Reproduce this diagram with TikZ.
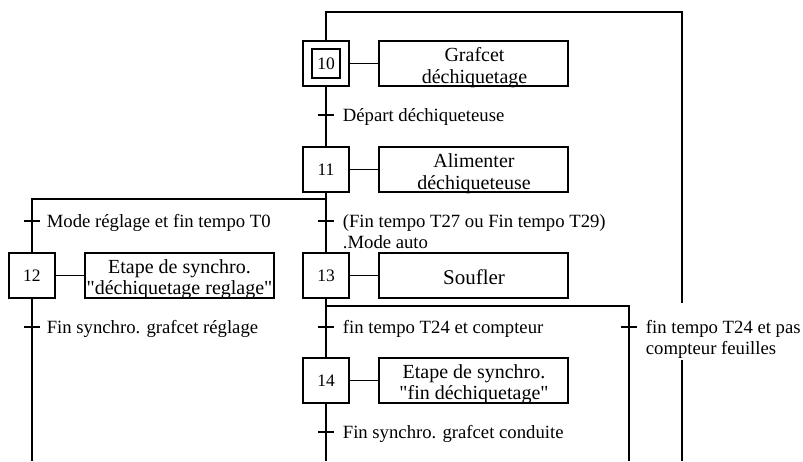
\documentclass[tikz,border=0pt]{standalone}
\usepackage{fontspec}
\setmainfont{Liberation Serif}
\begin{document}
\begin{tikzpicture}[x=1pt,y=-1pt, line width=1.7pt,
  every node/.style={font=\fontsize{18.7}{21}\selectfont},
  stepbox/.style={draw, minimum width=46pt, minimum height=45pt, inner sep=0pt, font=\fontsize{17.5}{21}\selectfont},
  innerbox/.style={draw, minimum width=28pt, minimum height=29pt, inner sep=0pt, font=\fontsize{17.5}{21}\selectfont},
  actbox/.style={draw, minimum width=189pt, minimum height=45pt, inner sep=0pt},
  acttext/.style={anchor=base, align=center, inner sep=0pt, font=\fontsize{20}{21.5}\selectfont},
  trtext/.style={anchor=base west, align=left, inner sep=0pt},
  tick/.style={line width=1.7pt}]
\useasboundingbox (0,0) rectangle (803,461);

% steps
\node[stepbox] (s10) at (326,63.5) {};
\node[innerbox] (s10i) at (326,63.5) {10};
\node[stepbox] (s11) at (326,169.5) {11};
\node[stepbox] (s12) at (32,275.5) {12};
\node[stepbox] (s13) at (326,275.5) {13};
\node[stepbox] (s14) at (326,380.5) {14};

% actions
\node[actbox] (a10) at (473.5,63.5) {};
\node[acttext] (a10t) at (474.5,83) {Grafcet\\déchiquetage};
\node[actbox] (a11) at (473.5,169.5) {};
\node[acttext] (a11t) at (474,189) {Alimenter\\déchiqueteuse};
\node[actbox] (a12) at (179.5,275.5) {};
\node[acttext] (a12t) at (179.5,294.5) {Etape de synchro.\\\textquotedbl déchiquetage reglage\textquotedbl};
\node[actbox] (a13) at (473.5,275.5) {};
\node[acttext, font=\fontsize{21}{22}\selectfont] (a13t) at (474,284) {Soufler};
\node[actbox] (a14) at (473.5,380.5) {};
\node[acttext] (a14t) at (474,399.5) {Etape de synchro.\\\textquotedbl fin déchiquetage\textquotedbl};

\draw (s10) -- (a10);
\draw (s11) -- (a11);
\draw (s12) -- (a12);
\draw (s13) -- (a13);
\draw (s14) -- (a14);

% coordinates
\coordinate (top) at (326,12);
\coordinate (topr) at (682,12);
\coordinate (r1) at (682,303);
\coordinate (r2) at (682,360);
\coordinate (botr) at (682,461);
\coordinate (d1l) at (32,199);
\coordinate (d1r) at (326,199);
\coordinate (b12) at (32,461);
\coordinate (d2l) at (326,306);
\coordinate (d2r) at (629,306);
\coordinate (b2r) at (629,461);
\coordinate (b14) at (326,461);

% links
\draw (s10.north) -- (top) -- (topr) -- (r1);
\draw (r2) -- (botr);
\draw (s10.south) -- (s11.north);
\draw (s11.south) -- (s13.north);
\draw (d1r) -- (d1l) -- (s12.north);
\draw (s12.south) -- (b12);
\draw (s13.south) -- (s14.north);
\draw (d2l) -- (d2r) -- (b2r);
\draw (s14.south) -- (b14);

% transitions
\foreach \n/\x/\y in {t1/326/115, t2/32/221, t3/326/221, t4/32/327, t5/326/327, t6/629/327, t7/326/432}{
  \coordinate (\n) at (\x,\y);
  \draw[tick] ([xshift=-8pt]\n) -- ([xshift=8pt]\n);
}
\node[trtext] (t1t) at (342,121.5) {Départ déchiqueteuse};
\node[trtext] (t2t) at (46,227.5) {Mode réglage et fin tempo T0};
\node[trtext] (t3t) at (342,248.5) {(Fin tempo T27 ou Fin tempo T29)\\.Mode auto};
\node[trtext] (t4t) at (46,333.5) {Fin synchro. grafcet réglage};
\node[trtext] (t5t) at (342,333.5) {fin tempo T24 et compteur};
\node[trtext] (t6t) at (645,354.5) {fin tempo T24 et pas\\compteur feuilles};
\node[trtext] (t7t) at (342,438.5) {Fin synchro. grafcet conduite};
\end{tikzpicture}
\end{document}
